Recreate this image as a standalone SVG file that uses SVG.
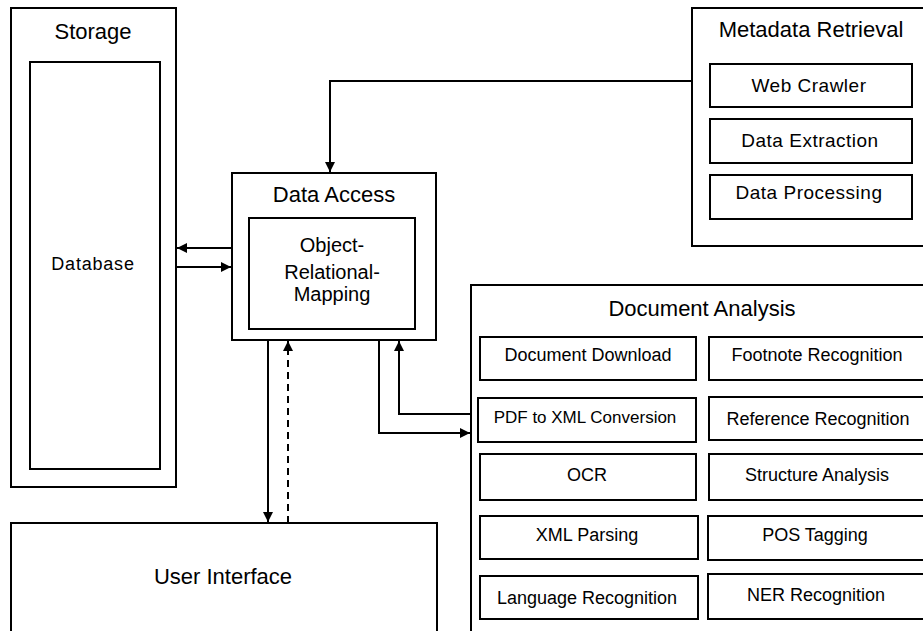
<svg xmlns="http://www.w3.org/2000/svg" width="923" height="631" viewBox="0 0 923 631">
<defs>
<style>
rect{fill:#fff;stroke:#000;stroke-width:2}
text{font-family:"Liberation Sans",Arial,sans-serif;fill:#000;text-anchor:middle}
.t{font-size:22px}
.s{font-size:18px}
.o{font-size:20px}
.m{font-size:19px;letter-spacing:0.5px}
.c{fill:none;stroke:#000;stroke-width:2}
</style>
<marker id="ah" viewBox="0 0 10 10" refX="10" refY="5" markerWidth="5" markerHeight="5" orient="auto" markerUnits="strokeWidth">
<path d="M0,0L10,5L0,10z" fill="#000"/>
</marker>
</defs>
<rect x="0" y="0" width="923" height="631" style="stroke:none"/>
<g id="storage">
<rect x="11" y="8" width="165" height="479"/>
<text class="t" x="93" y="39">Storage</text>
<rect x="30" y="62" width="130" height="407"/>
<text class="s" x="93" y="270" style="letter-spacing:0.8px">Database</text>
</g>
<g id="data-access">
<rect x="232" y="173" width="204" height="167"/>
<text class="t" x="334" y="202">Data Access</text>
<rect x="249" y="218" width="166" height="111"/>
<text class="o" x="332" y="252">Object-</text>
<text class="o" x="332" y="279">Relational-</text>
<text class="o" x="332" y="301">Mapping</text>
</g>
<g id="metadata-retrieval">
<rect x="692" y="8" width="240" height="238"/>
<text class="t" x="811" y="37">Metadata Retrieval</text>
<rect x="710" y="64" width="202" height="43"/>
<text class="m" x="809" y="92">Web Crawler</text>
<rect x="710" y="119" width="202" height="44"/>
<text class="m" x="810" y="147">Data Extraction</text>
<rect x="710" y="175" width="202" height="44"/>
<text class="m" x="809" y="199">Data Processing</text>
</g>
<g id="document-analysis">
<rect x="471" y="285" width="460" height="356"/>
<text class="t" x="702" y="316">Document Analysis</text>
<rect x="480" y="337" width="216" height="43"/>
<text class="s" x="588" y="361">Document Download</text>
<rect x="709" y="337" width="220" height="43"/>
<text class="s" x="817" y="361">Footnote Recognition</text>
<rect x="478" y="398" width="218" height="44"/>
<text class="s" x="585" y="423" style="font-size:17px">PDF to XML Conversion</text>
<rect x="709" y="397" width="220" height="43"/>
<text class="s" x="818" y="425">Reference Recognition</text>
<rect x="480" y="454" width="216" height="46"/>
<text class="s" x="587" y="481">OCR</text>
<rect x="709" y="454" width="220" height="46"/>
<text class="s" x="817" y="481">Structure Analysis</text>
<rect x="480" y="516" width="218" height="43"/>
<text class="s" x="587" y="541">XML Parsing</text>
<rect x="708" y="516" width="221" height="44"/>
<text class="s" x="815" y="541">POS Tagging</text>
<rect x="480" y="576" width="218" height="43"/>
<text class="s" x="587" y="604">Language Recognition</text>
<rect x="708" y="574" width="221" height="45"/>
<text class="s" x="816" y="601">NER Recognition</text>
</g>
<g id="user-interface">
<rect x="11" y="523" width="426" height="118"/>
<text class="t" x="223" y="584">User Interface</text>
</g>
<g id="connectors">
<path class="c" d="M692,81H330V172" marker-end="url(#ah)"/>
<path class="c" d="M232,248H177" marker-end="url(#ah)"/>
<path class="c" d="M176,267H231" marker-end="url(#ah)"/>
<path class="c" d="M268,340V522" marker-end="url(#ah)"/>
<path class="c" d="M288,523V341" stroke-dasharray="7,5" marker-end="url(#ah)"/>
<path class="c" d="M379,340V433H470" marker-end="url(#ah)"/>
<path class="c" d="M472,414H399V341" marker-end="url(#ah)"/>
</g>
</svg>
